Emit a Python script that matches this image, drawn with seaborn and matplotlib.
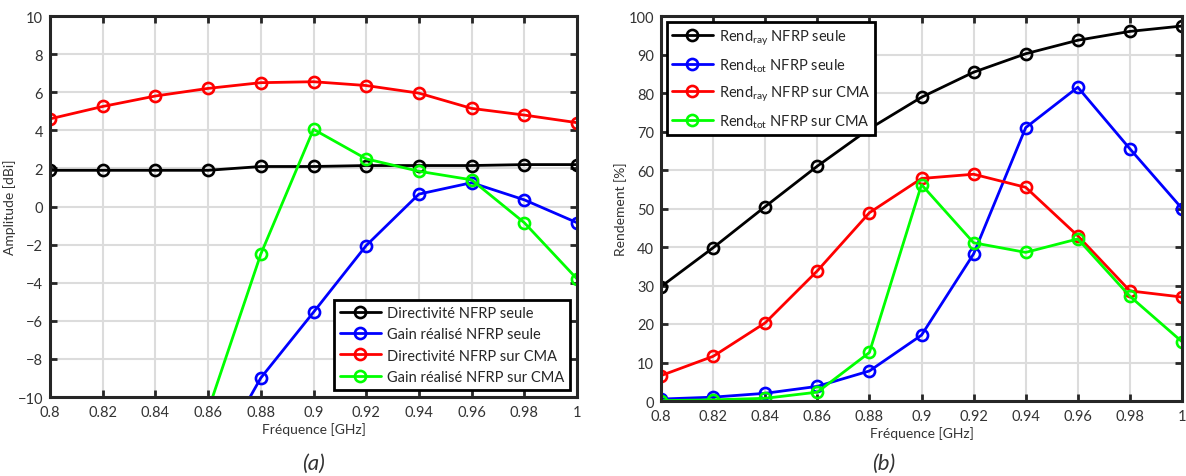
import matplotlib
matplotlib.use("Agg")
import matplotlib.pyplot as plt
import seaborn as sns
import numpy as np

freq = [0.80, 0.82, 0.84, 0.86, 0.88, 0.90, 0.92, 0.94, 0.96, 0.98, 1.00]

# (a) amplitude [dBi]
dir_seule = [1.9, 1.9, 1.9, 1.9, 2.1, 2.1, 2.15, 2.15, 2.15, 2.2, 2.2]
gain_seule = [-30, -25, -20, -13.9, -9.0, -5.55, -2.05, 0.65, 1.25, 0.35, -0.85]
dir_cma = [4.6, 5.25, 5.8, 6.2, 6.5, 6.55, 6.35, 5.95, 5.15, 4.8, 4.4]
gain_cma = [-30, -25, -18, -10.7, -2.5, 4.05, 2.5, 1.85, 1.4, -0.85, -3.8]

# (b) rendement [%]
ray_seule = [29.7, 39.8, 50.5, 61.0, 70.7, 78.9, 85.4, 90.2, 93.7, 96.0, 97.4]
tot_seule = [0.5, 1.0, 2.0, 3.8, 7.8, 17.1, 38.2, 71.0, 81.5, 65.5, 50.0]
ray_cma = [6.6, 11.6, 20.3, 33.8, 48.9, 57.8, 58.9, 55.5, 42.9, 28.6, 27.0]
tot_cma = [0.1, 0.3, 0.7, 2.3, 12.6, 56.2, 41.1, 38.6, 42.1, 27.2, 15.4]

colors = ["#000000", "#0000ff", "#ff0000", "#00ff00"]
labels_a = ["Directivité NFRP seule", "Gain réalisé NFRP seule",
            "Directivité NFRP sur CMA", "Gain réalisé NFRP sur CMA"]
labels_b = [r"Rend$_{\mathregular{ray}}$ NFRP seule", r"Rend$_{\mathregular{tot}}$ NFRP seule",
            r"Rend$_{\mathregular{ray}}$ NFRP sur CMA", r"Rend$_{\mathregular{tot}}$ NFRP sur CMA"]

sns.set_style("ticks")
plt.rcParams["font.family"] = ["Lato", "DejaVu Sans"]
plt.rcParams["mathtext.fontset"] = "custom"
plt.rcParams["mathtext.rm"] = "Lato"

fig = plt.figure(figsize=(11.86, 4.77), dpi=100)
ax1 = fig.add_axes([50/1186, 1-398/477, 527/1186, 381/477])
ax2 = fig.add_axes([661/1186, 1-402/477, 521/1186, 385/477])

def style(ax):
    ax.grid(True, color="#dcdcdc", lw=1.5)
    ax.set_axisbelow(True)
    for s in ax.spines.values():
        s.set_linewidth(2.2)
        s.set_color("#262626")
    ax.tick_params(direction="in", length=5, width=2, top=True, right=True,
                   labelsize=10.5, colors="#262626", labelcolor="#333333")
    ax.tick_params(axis="x", pad=6)
    ax.tick_params(axis="y", pad=5)
    ax.set_xlim(0.8, 1.0)
    ax.set_xticks(freq)
    ax.set_xticklabels(["0.8", "0.82", "0.84", "0.86", "0.88", "0.9", "0.92",
                        "0.94", "0.96", "0.98", "1"])
    ax.set_xlabel("Fréquence [GHz]", fontsize=10, color="#333333", labelpad=2)

series_a = [dir_seule, gain_seule, dir_cma, gain_cma]
for y, c, lab in zip(series_a, colors, labels_a):
    sns.lineplot(x=freq, y=y, ax=ax1, color=c, lw=2, marker="o", markersize=8,
                 markerfacecolor="none", markeredgecolor=c, markeredgewidth=1.9,
                 label=lab)
style(ax1)
ax1.set_ylim(-10, 10)
ax1.set_yticks(np.arange(-10, 11, 2))
ax1.set_ylabel("Amplitude [dBi]", fontsize=10, color="#333333", labelpad=1)
leg1 = ax1.legend(loc="lower right", fontsize=10.5, frameon=True, fancybox=False,
                  handlelength=2.8, borderaxespad=0.5, labelspacing=0.5,
                  handletextpad=0.4, borderpad=0.4)
leg1.get_frame().set_edgecolor("black")
leg1.get_frame().set_linewidth(2)
leg1.get_frame().set_alpha(1)

series_b = [ray_seule, tot_seule, ray_cma, tot_cma]
for y, c, lab in zip(series_b, colors, labels_b):
    sns.lineplot(x=freq, y=y, ax=ax2, color=c, lw=2, marker="o", markersize=8,
                 markerfacecolor="none", markeredgecolor=c, markeredgewidth=1.9,
                 label=lab)
style(ax2)
ax2.set_ylim(0, 100)
ax2.set_yticks(np.arange(0, 101, 10))
ax2.set_ylabel("Rendement [%]", fontsize=10, color="#333333", labelpad=1)
leg2 = ax2.legend(loc="upper left", fontsize=10.5, frameon=True, fancybox=False,
                  handlelength=2.8, borderaxespad=0.4, labelspacing=0.65,
                  handletextpad=0.4, borderpad=0.35)
leg2.get_frame().set_edgecolor("black")
leg2.get_frame().set_linewidth(2)
leg2.get_frame().set_alpha(1)

fig.text(313/1186, 1-464/477, "(a)", ha="center", va="center", fontsize=16,
         style="italic", color="#333333")
fig.text(884/1186, 1-464/477, "(b)", ha="center", va="center", fontsize=16,
         style="italic", color="#333333")

fig.savefig("out.png", dpi=100)
